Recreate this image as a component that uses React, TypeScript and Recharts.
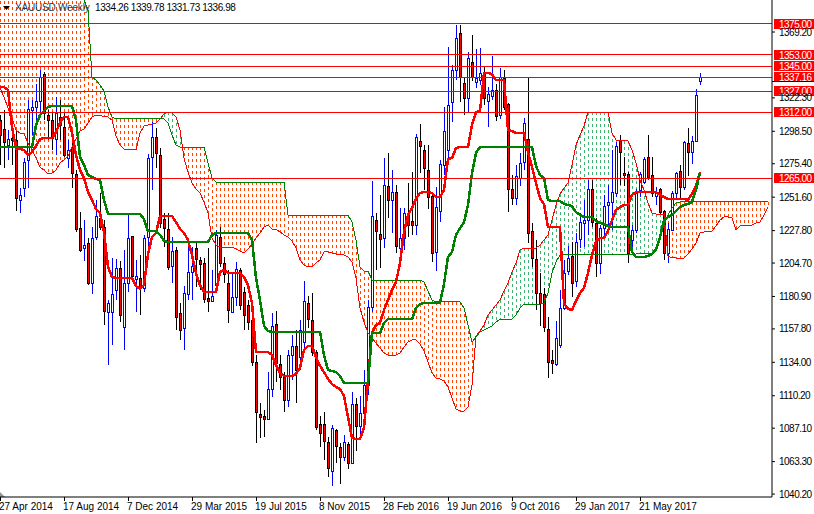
import { ComposedChart, Bar, Line, XAxis, YAxis, ReferenceLine } from 'recharts';

const title = 'XAUUSD,Weekly';
const lastQuote = '1334.26 1339.78 1331.73 1336.98';

const opens = [
  1306.5,1300.1,1288.7,1293.7,1292.3,1249.6,1258.1,1278.1,1313.7,1315.8,
  1320.1,1339.3,1310.1,1306.5,1293.0,1308.7,1301.6,1279.5,1287.3,1268.1,
  1229.6,1215.4,1219.0,1190.5,1223.2,1236.8,1230.4,1169.8,1169.8,1185.5,
  1201.2,1159.1,1190.5,1223.9,1193.3,1194.0,1186.9,1223.2,1280.2,1294.4,
  1281.6,1236.0,1228.9,1202.6,1214.0,1169.1,1158.4,1182.6,1198.3,1215.4,
  1206.9,1204.7,1179.8,1177.7,1189.0,1223.2,1204.7,1190.5,1169.8,1180.5,
  1199.7,1184.1,1174.8,1164.1,1134.2,1097.2,1095.8,1093.6,1115.0,1161.3,
  1132.8,1123.5,1107.2,1139.2,1145.6,1137.8,1148.5,1176.2,1164.1,1141.3,
  1090.1,1090.1,1077.3,1056.6,1085.8,1073.7,1066.6,1075.8,1062.3,1104.3,
  1088.6,1097.9,1117.8,1173.4,1235.3,1225.4,1222.5,1259.6,1249.6,1255.3,
  1215.4,1222.5,1240.3,1234.6,1231.8,1291.6,1285.2,1270.9,1252.4,1212.6,
  1241.7,1274.5,1285.2,1319.4,1342.2,1368.5,1332.9,1322.2,1347.9,1333.6,
  1335.0,1340.7,1320.1,1323.6,1327.9,1310.1,1336.5,1318.0,1257.4,1251.0,
  1265.2,1276.6,1293.0,1227.5,1207.6,1183.4,1182.6,1157.7,1135.6,1132.8,
  1146.3,1172.7,1199.0,1209.7,1191.9,1221.8,1233.2,1235.3,1257.4,1233.2,
  1204.7,1229.6,1246.0,1248.2,1254.6,1291.6,1268.8,1268.1,1221.1,1228.2,
  1256.7,1262.4,1280.2,1267.4,1252.4,1257.4,1241.7,1211.8,1228.2,1254.6,
  1270.2,1258.8,1290.2,1283.8,1291.6,1334.26,
];

const highs = [
  1310.1,1313.7,1299.4,1299.4,1299.4,1258.1,1279.5,1320.8,1320.8,1332.2,
  1342.2,1340.7,1313.7,1311.5,1322.9,1320.8,1311.5,1292.3,1292.3,1270.9,
  1241.0,1235.3,1222.5,1230.4,1249.6,1254.6,1235.3,1178.4,1208.3,1207.6,
  1206.1,1214.0,1238.9,1223.9,1206.9,1210.4,1224.7,1282.3,1305.1,1300.9,
  1286.6,1240.3,1240.3,1223.2,1216.1,1176.2,1188.3,1217.5,1216.1,1219.7,
  1209.0,1208.3,1215.4,1199.7,1228.2,1230.4,1209.0,1199.7,1197.6,1205.4,
  1201.2,1187.6,1178.4,1167.7,1139.2,1105.0,1100.0,1127.1,1169.1,1170.5,
  1139.2,1127.1,1142.8,1153.4,1157.0,1164.1,1191.9,1181.2,1183.4,1142.8,
  1095.8,1098.6,1080.8,1089.4,1086.5,1076.5,1082.2,1077.3,1112.9,1108.6,
  1110.0,1128.5,1178.4,1263.1,1240.3,1253.1,1279.5,1283.1,1270.9,1260.3,
  1243.9,1243.9,1261.7,1269.5,1296.6,1303.7,1288.7,1288.7,1254.6,1258.8,
  1278.1,1315.8,1358.5,1345.7,1374.2,1374.2,1336.5,1355.0,1367.1,1357.1,
  1357.8,1344.3,1330.0,1352.1,1332.2,1343.6,1342.2,1318.7,1267.4,1274.5,
  1283.1,1308.0,1336.5,1233.2,1221.1,1197.6,1186.9,1166.3,1142.8,1163.4,
  1185.5,1206.9,1216.8,1219.7,1226.1,1240.3,1249.6,1263.8,1263.8,1236.8,
  1231.8,1253.1,1260.3,1285.2,1290.9,1295.9,1280.2,1269.5,1231.8,1257.4,
  1269.5,1280.2,1295.9,1280.2,1258.8,1258.1,1242.5,1233.2,1256.0,1269.5,
  1274.5,1291.6,1300.9,1295.2,1328.6,1339.78,
];

const lows = [
  1274.5,1272.4,1278.1,1274.5,1241.7,1240.3,1251.7,1258.1,1295.9,1301.6,
  1311.5,1306.5,1292.3,1285.2,1281.6,1292.3,1280.2,1272.4,1258.1,1226.8,
  1212.6,1206.1,1189.0,1182.6,1221.1,1228.2,1160.6,1132.1,1146.3,1178.4,
  1162.7,1142.8,1184.1,1194.0,1169.8,1167.7,1184.1,1216.8,1256.7,1272.4,
  1229.6,1216.1,1199.7,1190.5,1157.0,1149.9,1142.8,1178.4,1178.4,1187.6,
  1185.5,1176.2,1169.8,1177.0,1183.4,1201.9,1190.5,1162.0,1169.1,1174.1,
  1171.3,1157.0,1157.0,1131.4,1076.5,1080.1,1080.8,1092.9,1109.3,1120.0,
  1114.3,1098.6,1102.2,1121.4,1105.0,1128.5,1142.8,1158.4,1138.5,1085.8,
  1073.7,1064.4,1052.3,1045.9,1062.3,1047.3,1063.7,1058.0,1061.6,1070.8,
  1082.2,1092.9,1110.7,1169.8,1199.7,1201.2,1215.4,1236.8,1226.1,1211.8,
  1208.3,1214.0,1223.2,1224.7,1224.7,1268.8,1256.7,1243.2,1205.4,1199.0,
  1233.9,1267.4,1278.1,1305.1,1335.0,1319.4,1310.1,1312.2,1334.3,1329.3,
  1331.5,1317.2,1301.6,1320.8,1305.8,1307.3,1313.7,1241.0,1246.0,1246.0,
  1259.6,1270.9,1219.0,1201.9,1171.3,1159.9,1155.6,1122.8,1125.7,1131.4,
  1144.2,1171.3,1196.2,1180.5,1187.6,1215.4,1216.1,1224.7,1230.4,1194.7,
  1196.9,1223.2,1230.4,1228.2,1251.7,1260.3,1259.6,1204.7,1214.0,1226.1,
  1251.7,1261.0,1263.8,1251.7,1246.0,1239.6,1206.9,1204.7,1227.5,1251.0,
  1249.6,1256.7,1266.7,1275.2,1290.9,1331.73,
];

const closes = [
  1295.9,1290.9,1293.0,1292.3,1251.0,1253.1,1276.6,1314.4,1315.8,1320.1,
  1337.2,1311.5,1306.5,1293.7,1311.5,1303.0,1281.6,1285.2,1268.8,1228.9,
  1214.0,1217.5,1190.5,1222.5,1238.2,1230.4,1170.5,1176.2,1182.6,1201.2,
  1167.7,1190.5,1222.5,1195.5,1195.5,1187.6,1222.5,1279.5,1294.4,1283.1,
  1233.2,1229.6,1201.9,1213.3,1166.3,1157.0,1183.4,1198.3,1202.6,1207.6,
  1204.0,1179.1,1177.7,1181.2,1224.7,1204.7,1196.9,1171.3,1180.5,1200.4,
  1174.8,1167.7,1162.7,1134.2,1098.6,1095.0,1093.6,1115.0,1159.9,1133.5,
  1123.5,1107.2,1139.2,1145.6,1128.5,1157.0,1177.7,1164.8,1141.3,1087.9,
  1083.7,1078.0,1058.7,1087.2,1074.4,1066.6,1077.3,1062.3,1104.3,1088.6,
  1097.9,1117.8,1173.4,1238.2,1227.5,1221.8,1260.3,1249.6,1255.3,1216.8,
  1222.5,1240.3,1231.8,1231.8,1294.4,1288.0,1272.4,1251.7,1211.8,1244.6,
  1275.2,1298.7,1317.2,1342.2,1364.9,1337.2,1322.2,1350.7,1337.2,1336.5,
  1340.0,1322.2,1325.1,1327.9,1309.4,1337.2,1315.8,1257.4,1251.0,1266.7,
  1276.0,1304.4,1226.1,1208.3,1183.4,1176.2,1159.1,1134.2,1133.5,1151.3,
  1172.7,1197.6,1208.3,1190.5,1219.7,1233.9,1235.3,1257.4,1233.9,1204.7,
  1229.6,1245.3,1248.2,1255.3,1288.0,1283.8,1267.4,1211.8,1228.2,1254.6,
  1268.1,1278.8,1266.0,1254.6,1255.3,1241.0,1211.8,1228.9,1254.6,1268.8,
  1258.8,1290.9,1283.8,1291.6,1324.4,1336.98,
];

// tenkan-sen, thick red
const tenkan = [
  1330.0,1330.0,1327.9,1301.6,1285.9,1285.9,1285.2,1281.6,1283.8,1288.0,
  1293.0,1293.7,1293.7,1293.7,1298.0,1304.4,1308.7,1308.7,1297.3,1281.6,
  1270.9,1265.2,1255.3,1249.6,1243.2,1240.3,1226.8,1201.9,1194.7,1194.0,
  1194.0,1194.0,1194.0,1194.0,1188.3,1186.2,1189.0,1211.1,1223.2,1226.1,
  1238.2,1238.2,1238.2,1238.2,1233.9,1228.9,1226.1,1221.1,1210.4,1197.6,
  1189.0,1184.1,1184.1,1184.1,1184.1,1198.3,1199.7,1197.6,1197.6,1197.6,
  1197.6,1194.7,1189.0,1176.2,1141.3,1141.3,1141.3,1141.3,1139.2,1132.1,
  1126.4,1124.3,1124.3,1124.3,1125.7,1130.0,1142.8,1145.6,1145.6,1137.8,
  1131.4,1127.1,1122.1,1118.6,1116.4,1115.0,1110.0,1095.0,1080.1,1079.4,
  1079.4,1087.2,1121.4,1154.9,1160.6,1162.0,1171.3,1178.4,1185.5,1191.2,
  1204.7,1226.8,1238.9,1243.9,1250.3,1254.6,1255.3,1255.3,1254.6,1251.7,
  1251.7,1256.7,1278.8,1279.5,1286.6,1287.3,1287.3,1287.3,1303.0,1312.2,
  1313.0,1340.0,1340.0,1339.3,1335.0,1335.0,1335.0,1299.4,1298.7,1297.3,
  1297.3,1297.3,1283.8,1273.1,1261.7,1251.0,1246.7,1230.4,1230.4,1230.4,
  1230.4,1176.2,1172.0,1171.3,1177.7,1183.4,1186.9,1197.6,1210.4,1220.4,
  1222.5,1222.5,1227.5,1235.3,1242.5,1244.6,1246.0,1246.0,1253.1,1255.3,
  1255.3,1255.3,1255.3,1255.3,1255.3,1253.1,1251.7,1250.3,1250.3,1250.3,
  1250.3,1250.3,1249.6,1253.9,1259.6,1269.5,
];

// kijun-sen, thick green
const kijun = [
  1287.3,1287.3,1287.3,1287.3,1287.3,1287.3,1287.3,1287.3,1287.3,1303.0,
  1310.1,1313.0,1315.8,1316.5,1316.5,1316.5,1316.5,1316.5,1316.5,1306.5,
  1280.2,1274.5,1267.4,1266.0,1264.5,1263.8,1249.6,1239.6,1239.6,1239.6,
  1239.6,1239.6,1239.6,1239.6,1239.6,1239.6,1236.0,1227.5,1227.5,1227.5,
  1224.7,1220.4,1219.7,1219.7,1219.7,1219.7,1219.7,1219.7,1219.7,1219.7,
  1219.7,1219.7,1219.7,1224.7,1226.1,1226.1,1226.1,1226.1,1226.1,1226.1,
  1226.1,1226.1,1226.1,1221.1,1194.0,1178.4,1159.9,1156.3,1155.6,1155.6,
  1155.6,1155.6,1155.6,1155.6,1155.6,1155.6,1155.6,1155.6,1155.6,1155.6,
  1155.6,1139.2,1128.5,1127.8,1127.1,1124.3,1119.3,1119.3,1119.3,1119.3,
  1119.3,1119.3,1119.3,1154.9,1154.9,1154.9,1162.0,1164.8,1164.8,1164.8,
  1164.8,1164.8,1164.8,1164.8,1172.7,1175.5,1176.2,1176.2,1176.2,1176.2,
  1176.2,1189.8,1209.0,1212.6,1224.7,1229.6,1233.9,1246.0,1268.8,1283.1,
  1287.3,1287.3,1287.3,1287.3,1287.3,1287.3,1287.3,1287.3,1287.3,1287.3,
  1287.3,1287.3,1287.3,1287.3,1273.8,1267.4,1265.2,1249.6,1248.9,1248.9,
  1248.9,1246.7,1246.0,1245.3,1241.0,1238.9,1237.5,1237.5,1237.5,1234.6,
  1233.2,1232.5,1231.1,1230.4,1230.4,1230.4,1230.4,1230.4,1212.6,1209.0,
  1209.0,1209.0,1209.7,1211.1,1214.0,1223.2,1235.3,1237.5,1238.9,1241.7,
  1244.6,1246.0,1246.7,1248.2,1256.7,1268.8,
];

// senkou span A, runs on past the last candle
const spanA = [
  1329.3,1322.9,1315.1,1308.0,1299.4,1297.3,1296.6,1290.2,1285.2,1279.5,
  1273.1,1270.9,1268.1,1268.8,1270.9,1276.0,1278.1,1280.9,1287.3,1293.0,
  1298.7,1300.1,1304.4,1308.7,1310.1,1310.1,1308.7,1308.7,1306.5,1295.2,
  1288.7,1285.9,1285.2,1285.2,1285.2,1297.3,1302.3,1303.0,1303.7,1304.4,
  1307.3,1310.8,1312.2,1311.5,1308.7,1299.4,1279.5,1269.5,1261.7,1257.4,
  1254.6,1248.2,1240.3,1222.5,1217.5,1216.1,1216.1,1216.1,1216.1,1214.7,
  1213.3,1211.8,1214.7,1218.2,1222.5,1226.1,1230.4,1231.8,1228.9,1228.9,
  1226.8,1224.7,1223.2,1220.4,1215.4,1206.9,1203.3,1201.9,1201.9,1204.7,
  1206.9,1212.6,1212.6,1211.8,1211.1,1211.1,1210.4,1209.0,1205.4,1194.0,
  1172.7,1162.7,1154.9,1151.3,1147.7,1144.2,1140.6,1139.2,1138.5,1139.2,
  1140.6,1144.9,1148.5,1149.9,1149.9,1147.0,1142.1,1134.2,1126.4,1122.8,
  1122.1,1120.7,1116.4,1108.6,1100.8,1099.3,1099.3,1102.2,1117.8,1152.7,
  1156.3,1160.6,1167.7,1171.3,1174.8,1178.4,1184.8,1190.5,1198.3,1204.7,
  1214.0,1215.4,1215.4,1215.4,1215.4,1217.5,1221.1,1224.7,1235.3,1246.0,
  1253.9,1258.1,1261.7,1274.5,1288.7,1295.9,1302.3,1312.2,1312.2,1312.2,
  1312.2,1312.2,1312.2,1297.3,1292.3,1291.6,1291.6,1291.6,1285.2,1276.0,
  1263.8,1256.7,1247.4,1240.3,1239.6,1239.6,1239.6,1209.7,1208.3,1208.3,
  1207.6,1208.3,1211.1,1214.7,1219.0,1226.1,1226.8,1227.5,1227.5,1231.1,
  1235.3,1237.5,1237.5,1236.8,1228.2,1231.1,1231.1,1231.1,1231.8,1233.2,
  1233.9,1238.9,1244.6,
];

// senkou span B, the first weeks sit above the top of the window
const spanB = [
  1400,1400,1400,1400,1400,1400,1400,1400,1400,1400,
  1400,1400,1400,1400,1400,1400,1400,1400,1400,1400,
  1400,1392.0,1384.9,1337.2,1335.0,1331.5,1327.2,1315.8,1308.7,1307.3,
  1307.3,1307.3,1307.3,1307.3,1307.3,1307.3,1307.3,1307.3,1307.3,1307.3,
  1307.3,1307.3,1304.4,1295.9,1288.7,1287.3,1287.3,1287.3,1287.3,1287.3,
  1287.3,1287.3,1276.0,1265.2,1262.4,1262.4,1262.4,1262.4,1262.4,1262.4,
  1262.4,1262.4,1262.4,1262.4,1262.4,1262.4,1262.4,1262.4,1262.4,1262.4,
  1262.4,1262.4,1238.9,1238.9,1238.9,1238.9,1238.9,1238.9,1238.9,1238.9,
  1238.9,1238.9,1238.9,1238.9,1238.9,1238.9,1238.9,1238.9,1233.9,1221.1,
  1201.9,1199.0,1199.0,1192.6,1192.6,1192.6,1192.6,1192.6,1192.6,1192.6,
  1192.6,1192.6,1192.6,1192.6,1192.6,1192.6,1191.2,1184.8,1178.4,1177.0,
  1177.0,1177.0,1177.0,1177.0,1177.0,1177.0,1172.7,1160.6,1148.5,1152.0,
  1155.6,1157.0,1158.4,1159.9,1162.7,1164.8,1164.8,1164.8,1164.8,1167.7,
  1172.7,1175.5,1175.5,1175.5,1175.5,1175.5,1176.2,1183.4,1197.6,1205.4,
  1210.4,1211.1,1211.1,1211.1,1211.1,1211.1,1211.1,1211.1,1211.1,1211.1,
  1211.1,1211.1,1211.1,1211.1,1211.1,1211.1,1211.1,1211.1,1211.1,1211.1,
  1211.8,1211.8,1211.8,1211.8,1215.4,1222.5,1231.8,1238.9,1243.9,1247.4,
  1248.2,1248.2,1248.2,1248.2,1248.2,1248.2,1248.2,1248.2,1248.2,1248.2,
  1248.2,1248.2,1248.2,1248.2,1248.2,1248.2,1248.2,1248.2,1248.2,1248.2,
  1248.2,1248.2,1248.2,
];

const levels = [1375, 1353, 1345, 1337.16, 1327, 1312, 1265];
const priceTicks = [1369.2, 1322.3, 1298.5, 1275.4, 1251.6, 1227.8, 1204.7, 1180.9, 1157.8, 1134.0, 1110.2, 1087.1, 1063.3, 1040.2];
const timeTicks = [0, 16, 32, 48, 64, 80, 96, 112, 128, 144, 160];
const timeLabels = ['27 Apr 2014', '17 Aug 2014', '7 Dec 2014', '29 Mar 2015', '19 Jul 2015', '8 Nov 2015', '28 Feb 2016', '19 Jun 2016', '9 Oct 2016', '29 Jan 2017', '21 May 2017'];

const data = spanA.map((a, i) => {
  const b = spanB[i];
  return {
    i,
    open: opens[i],
    close: closes[i],
    high: highs[i],
    low: lows[i],
    range: i < opens.length ? [lows[i], highs[i]] : null,
    tenkan: i < tenkan.length ? tenkan[i] : null,
    kijun: i < kijun.length ? kijun[i] : null,
    spanA: a,
    spanB: b,
    cloud: [Math.min(a, b), Math.max(a, b)],
  };
});

const FONT = '"Liberation Sans", Arial, sans-serif';
const FONT_SIZE = 10;

// the cloud is a dotted histogram: one dashed stroke per week between the spans
function CloudStroke(props: any) {
  const { x, y, width, height, payload } = props;
  if (!height) return null;
  const cx = Math.round(x + width / 2) + 0.5;
  const color = payload.spanB >= payload.spanA ? '#ff4500' : '#3cb371';
  return <line x1={cx} x2={cx} y1={y} y2={y + height} stroke={color} strokeWidth={1} strokeDasharray="3 3" shapeRendering="crispEdges" />;
}

function Candle(props: any) {
  const { x, y, width, height, payload } = props;
  if (payload.high == null || !height) return null;
  const perUnit = height / (payload.high - payload.low);
  const cx = Math.round(x + width / 2);
  const openY = y + (payload.high - payload.open) * perUnit;
  const closeY = y + (payload.high - payload.close) * perUnit;
  const up = payload.close >= payload.open;
  const top = Math.round(Math.min(openY, closeY)) + 0.5;
  const bottom = Math.round(Math.max(openY, closeY)) + 0.5;
  const edge = up ? '#0000ff' : '#000000';
  return (
    <g>
      <line x1={cx + 0.5} x2={cx + 0.5} y1={y} y2={y + height} stroke={edge} strokeWidth={1} shapeRendering="crispEdges" />
      <rect x={cx - 0.5} y={top} width={2} height={Math.max(bottom - top, 1)} fill={up ? '#ffffff' : '#ff0000'} stroke={edge} strokeWidth={1} shapeRendering="crispEdges" />
    </g>
  );
}

function TimeTick({ x, index }: any) {
  return (
    <g>
      <line x1={x + 0.5} x2={x + 0.5} y1={497} y2={501} stroke="#000" shapeRendering="crispEdges" />
      <text x={x - 1} y={510} fontSize={FONT_SIZE} fontFamily={FONT} fill="#000">{timeLabels[index]}</text>
    </g>
  );
}

function LevelLabel({ viewBox, value }: any) {
  const y = Math.round(viewBox.y);
  return (
    <g>
      <rect x={774} y={y - 5} width={40} height={10} fill="#ff0000" />
      {value === 1337.16 && <line x1={772} x2={814} y1={y + 4.5} y2={y + 4.5} stroke="#000" shapeRendering="crispEdges" />}
      <text x={779} y={y + 4} fontSize={FONT_SIZE} letterSpacing={-0.5} fontFamily={FONT} fill="#ffffff">{value.toFixed(2)}</text>
    </g>
  );
}

export default function App() {
  return (
    <div style={{ position: 'absolute', left: 0, top: 0, width: 814, height: 514, background: '#fff', overflow: 'hidden' }}>
      <ComposedChart width={814} height={514} data={data} margin={{ top: 0, right: 0, bottom: 0, left: 0 }} barSize={3}>
        <XAxis
          dataKey="i"
          type="number"
          domain={[0, 193]}
          ticks={timeTicks}
          interval={0}
          height={17}
          tick={<TimeTick />}
          tickLine={false}
          axisLine={{ stroke: '#000' }}
        />
        <XAxis xAxisId="cloud" dataKey="i" type="number" domain={[0, 193]} ticks={timeTicks} hide />
        <YAxis
          orientation="right"
          type="number"
          domain={[1038.1, 1392]}
          allowDataOverflow
          ticks={priceTicks}
          interval={0}
          width={42}
          tickSize={3}
          tickMargin={4}
          tickFormatter={(v: number) => v.toFixed(2)}
          tick={{ fontSize: FONT_SIZE, fontFamily: FONT, fill: '#000', letterSpacing: -0.5 }}
          tickLine={{ stroke: '#000' }}
          axisLine={{ stroke: '#000' }}
        />
        <Line dataKey="spanA" stroke="#ff0000" strokeWidth={1} shapeRendering="crispEdges" dot={false} activeDot={false} isAnimationActive={false} />
        <Line dataKey="spanB" stroke="#008000" strokeWidth={1} shapeRendering="crispEdges" dot={false} activeDot={false} isAnimationActive={false} />
        <Bar xAxisId="cloud" dataKey="cloud" shape={<CloudStroke />} isAnimationActive={false} />
        <Bar dataKey="range" shape={<Candle />} isAnimationActive={false} />
        <Line dataKey="tenkan" stroke="#ff0000" strokeWidth={2.5} shapeRendering="crispEdges" dot={false} activeDot={false} isAnimationActive={false} />
        <Line dataKey="kijun" stroke="#008000" strokeWidth={2.5} shapeRendering="crispEdges" dot={false} activeDot={false} isAnimationActive={false} />
        {levels.map((level) => (
          <ReferenceLine
            key={level}
            y={level}
            stroke="#ff0000"
            strokeWidth={1}
            shapeRendering="crispEdges"
            label={(p: any) => <LevelLabel viewBox={p.viewBox} value={level} />}
          />
        ))}
        <polygon points="0,492 0,497 5,497" fill="#8a97a3" />
      </ComposedChart>
      <svg width={10} height={10} style={{ position: 'absolute', left: 3, top: 3 }}>
        <polygon points="0,3 7,3 3.5,7" fill="#000" />
      </svg>
      <div style={{ position: 'absolute', left: 15, top: 1, fontFamily: FONT, fontSize: FONT_SIZE, letterSpacing: -0.2, lineHeight: '13px', color: '#1f3b57', whiteSpace: 'nowrap' }}>{title}</div>
      <div style={{ position: 'absolute', left: 95, top: 1, fontFamily: FONT, fontSize: FONT_SIZE, letterSpacing: -0.4, lineHeight: '13px', color: '#000', whiteSpace: 'nowrap' }}>{lastQuote}</div>
    </div>
  );
}
